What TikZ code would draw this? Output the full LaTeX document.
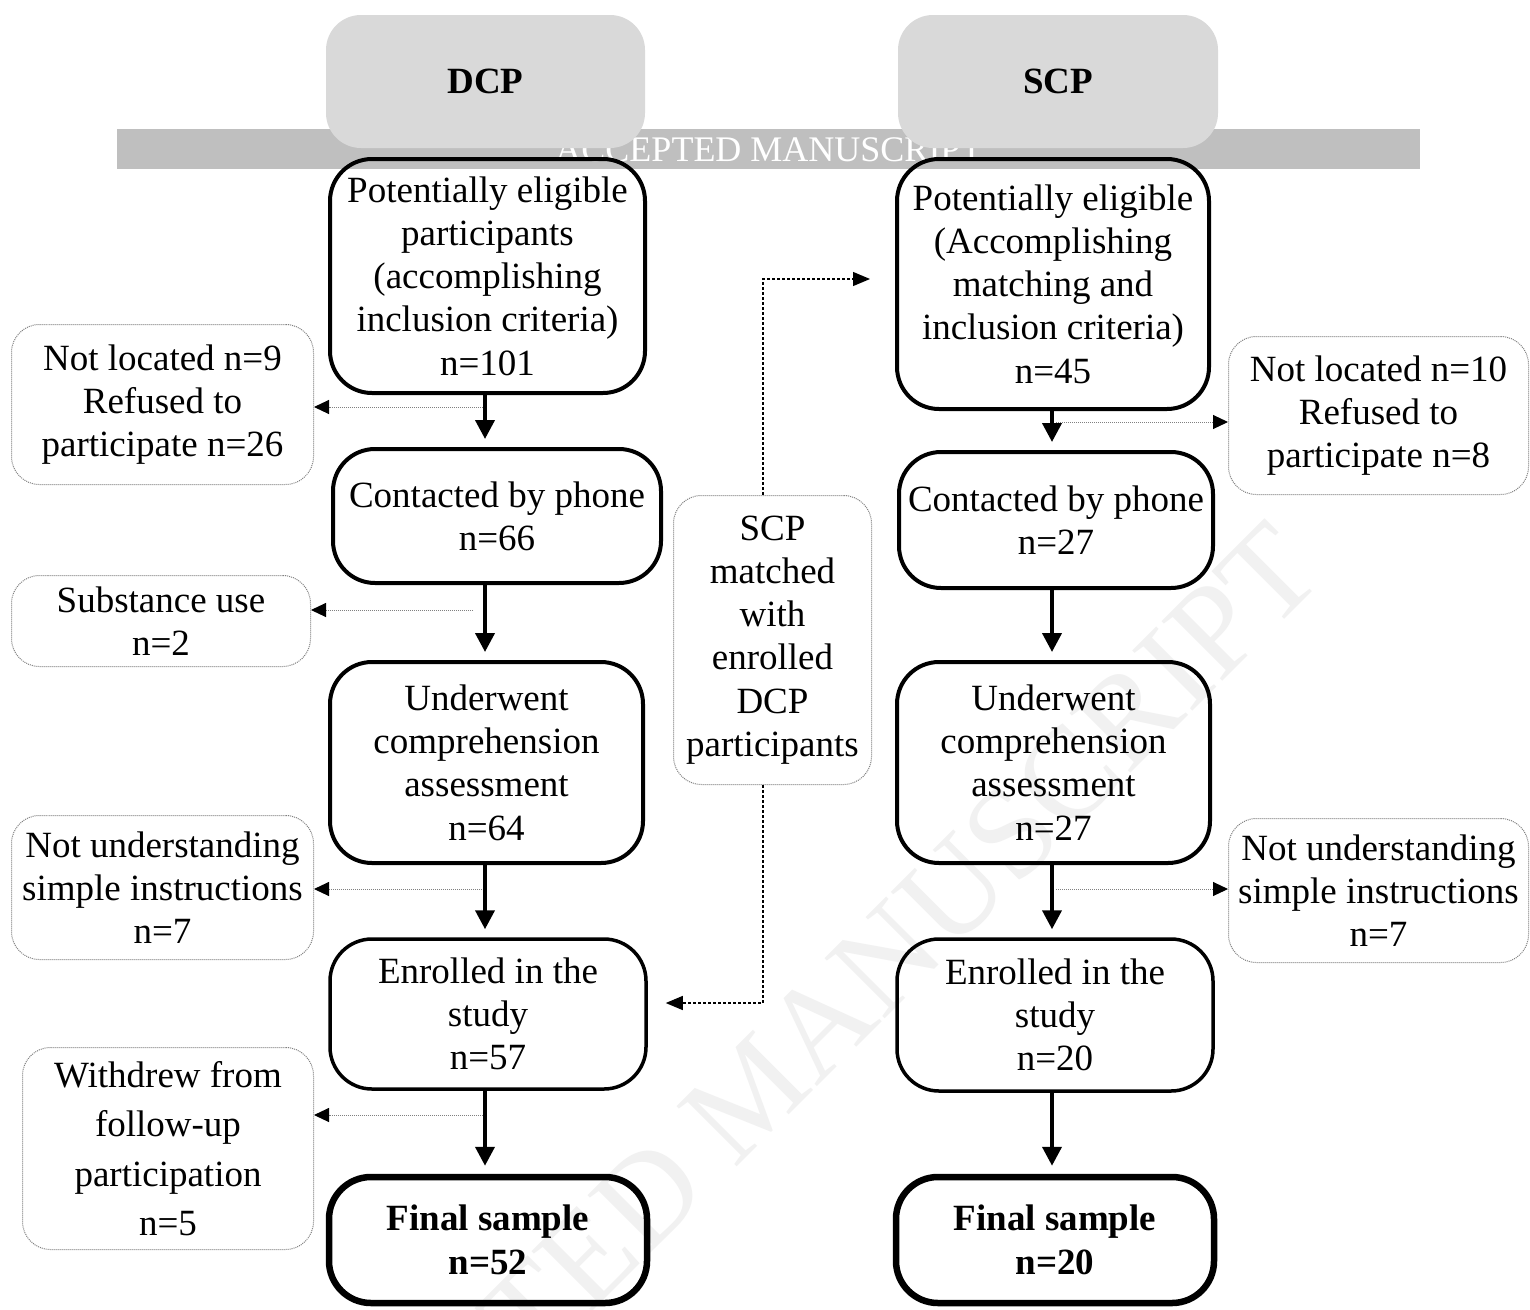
\documentclass[tikz,border=0pt]{standalone}
\usepackage{fontspec}
\setmainfont{Liberation Serif}
\usetikzlibrary{arrows.meta,calc}
\definecolor{hdr}{HTML}{D9D9D9}
\definecolor{barc}{HTML}{BFBFBF}
\definecolor{wmc}{HTML}{F1F1F1}
\begin{document}
\begin{tikzpicture}[x=1pt,y=-1pt,
  txt/.style={font=\fontsize{37}{43.3}\selectfont},
  mainbox/.style={draw, line width=4pt, rounded corners=42pt, inner sep=0pt, align=center, txt},
  sidebox/.style={draw=gray, densely dotted, line width=1pt, rounded corners=28pt, inner sep=0pt, align=center, txt},
  hdrbox/.style={fill=hdr, rounded corners=35pt, inner sep=0pt, font=\fontsize{37}{43}\selectfont\bfseries},
  flow/.style={line width=4pt, shorten >=8pt, -{Triangle[length=19pt,width=19pt]}},
  side/.style={draw=gray, densely dotted, line width=1pt, -{Triangle[length=15pt,width=14pt,color=black]}},
  match/.style={densely dashed, line width=1.2pt, -{Triangle[length=17pt,width=14pt]}}
]
\clip (0,0) rectangle (1530,1309);
\fill[white] (0,0) rectangle (1530,1309);

% diagonal watermark
\node[rotate=45, text=wmc, inner sep=0pt, font=\fontsize{130}{130}\selectfont] (wmark) at (752,1092) {ACCEPTED MANUSCRIPT};

% header bar
\fill[barc] (117,129) rectangle (1420,169);
\node[text=white, inner sep=0pt, font=\fontsize{36}{36}\selectfont] (bartext) at (769,150) {ACCEPTED MANUSCRIPT};

% headers
\node[hdrbox, minimum width=319, minimum height=133] (h1) at (485.5,81.5) {DCP};
\node[hdrbox, minimum width=320, minimum height=133] (h2) at (1058,81.5) {SCP};

% column coordinates
\coordinate (dcol) at (485,0);
\coordinate (scol) at (1052,0);
\coordinate (mx) at (763,0);

% DCP column
\node[mainbox, minimum width=315, minimum height=234] (d1) at (487.5,276) {Potentially eligible\\participants\\(accomplishing\\inclusion criteria)\\n=101};
\node[mainbox, minimum width=328, minimum height=134] (d2) at (497,516) {Contacted by phone\\n=66};
\node[mainbox, minimum width=313, minimum height=201] (d3) at (486.5,762.5) {Underwent\\comprehension\\assessment\\n=64};
\node[mainbox, line width=3.5pt, minimum width=316, minimum height=150] (d4) at (488,1014) {Enrolled in the\\study\\n=57};
\node[mainbox, line width=6.5pt, font=\fontsize{37}{44}\selectfont\bfseries, minimum width=318, minimum height=126] (d5) at (488,1240) {Final sample\\n=52};

% SCP column
\node[mainbox, minimum width=312, minimum height=250] (s1) at (1053,284) {Potentially eligible\\(Accomplishing\\matching and\\inclusion criteria)\\n=45};
\node[mainbox, minimum width=314, minimum height=136] (s2) at (1056,520) {Contacted by phone\\n=27};
\node[mainbox, minimum width=313, minimum height=201] (s3) at (1053.5,762.5) {Underwent\\comprehension\\assessment\\n=27};
\node[mainbox, line width=3.5pt, minimum width=316, minimum height=152] (s4) at (1055,1015) {Enrolled in the\\study\\n=20};
\node[mainbox, line width=6.5pt, font=\fontsize{37}{44}\selectfont\bfseries, minimum width=318, minimum height=126] (s5) at (1055,1240) {Final sample\\n=20};

% side boxes
\node[sidebox, minimum width=302, minimum height=160] (l1) at (162.5,404.5) {Not located n=9\\Refused to\\participate n=26};
\node[sidebox, minimum width=299, minimum height=91] (l2) at (161,621) {Substance use\\n=2};
\node[sidebox, minimum width=302, minimum height=144] (l3) at (162.5,887.5) {Not understanding\\simple instructions\\n=7};
\node[sidebox, font=\fontsize{37}{49.3}\selectfont, minimum width=291, minimum height=202] (l4) at (168,1148.5) {Withdrew from\\follow-up\\participation\\n=5};
\node[sidebox, minimum width=198, minimum height=289] (mm) at (772.5,640) {SCP\\matched\\with\\enrolled\\DCP\\participants};
\node[sidebox, minimum width=300, minimum height=158] (r1) at (1378.5,415.5) {Not located n=10\\Refused to\\participate n=8};
\node[sidebox, minimum width=300, minimum height=144] (r2) at (1378.5,890.5) {Not understanding\\simple instructions\\n=7};

% flow arrows DCP
\draw[flow] (d1.south -| dcol) -- (d2.north -| dcol);
\draw[flow] (d2.south -| dcol) -- (d3.north -| dcol);
\draw[flow] (d3.south -| dcol) -- (d4.north -| dcol);
\draw[flow] (d4.south -| dcol) -- (d5.north -| dcol);
% flow arrows SCP
\draw[flow] (s1.south -| scol) -- (s2.north -| scol);
\draw[flow] (s2.south -| scol) -- (s3.north -| scol);
\draw[flow] (s3.south -| scol) -- (s4.north -| scol);
\draw[flow] (s4.south -| scol) -- (s5.north -| scol);

% exclusion arrows
\coordinate (e1) at (483,407);
\coordinate (e2) at (473,610);
\coordinate (e3) at (482,889);
\coordinate (e4) at (483,1115);
\coordinate (e5) at (1056,422);
\coordinate (e6) at (1056,889);
\draw[side] (e1) -- (e1 -| l1.east);
\draw[side] (e2) -- (e2 -| l2.east);
\draw[side] (e3) -- (e3 -| l3.east);
\draw[side] (e4) -- (e4 -| l4.east);
\draw[side] (e5) -- (e5 -| r1.west);
\draw[side] (e6) -- (e6 -| r2.west);

% matching connectors
\draw[match, shorten >=25pt] (mm.north -| mx) |- ($(s1.west)+(0,-5)$);
\draw[match, shorten >=18pt] (mm.south -| mx) |- ($(d4.east)+(0,-11)$);
\end{tikzpicture}
\end{document}
